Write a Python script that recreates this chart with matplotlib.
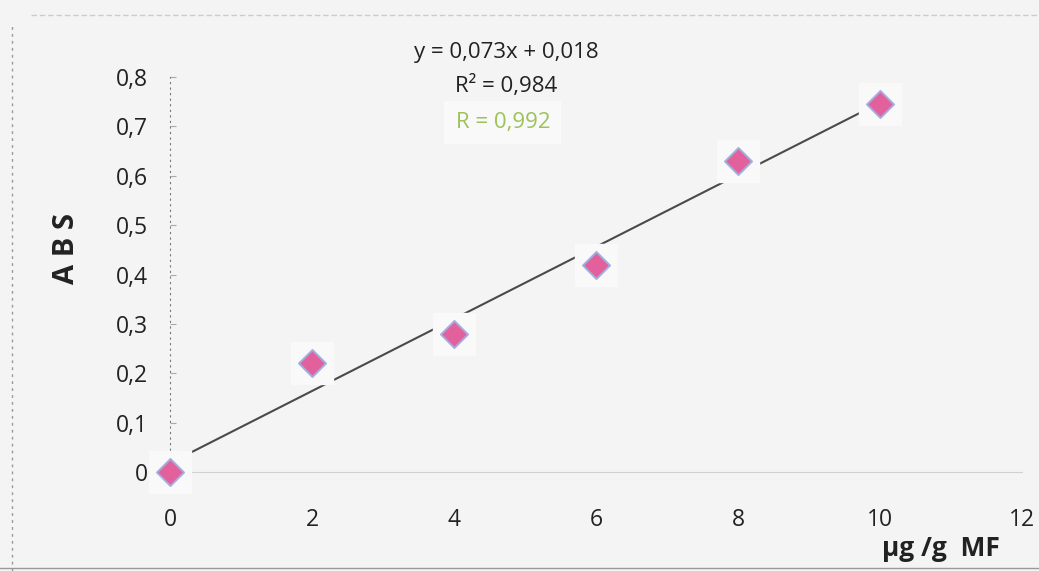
import numpy as np
import matplotlib.pyplot as plt
from matplotlib.lines import Line2D

plt.rcParams['font.family'] = ['Open Sans', 'DejaVu Sans']

# Calibration data
conc = [0, 2, 4, 6, 8, 10]          # µg/g MF
absorb = [0.0, 0.22, 0.28, 0.42, 0.63, 0.745]

x_ticks = [0, 2, 4, 6, 8, 10, 12]
y_ticks = [0, 0.1, 0.2, 0.3, 0.4, 0.5, 0.6, 0.7, 0.8]

# Linear fit shown on the chart
slope, intercept = 0.073, 0.018
r2, r = 0.984, 0.992

def comma(v, nd):
    return f'{v:.{nd}f}'.replace('.', ',')

bg = '#f4f4f4'
fig = plt.figure(figsize=(10.39, 5.71), dpi=100, facecolor=bg)
ax = fig.add_axes([0.1636, 0.1734, 0.82, 0.6917], facecolor=bg)

# trendline
xs = np.array([conc[0], conc[-1]])
ax.plot(xs, slope * xs + intercept, color='#4a4a4a', lw=1.5, zorder=2)

# pale boxes behind the markers, then the diamonds
ax.scatter(conc, absorb, marker='s', s=950, color='#f9f9f9', zorder=3,
           clip_on=False)
ax.scatter(conc, absorb, marker='D', s=190, facecolor='#e2619c',
           edgecolor='#a3aee0', linewidth=1.4, zorder=4, clip_on=False)

ax.set_xlim(0, 12)
ax.set_ylim(0, 0.8)
ax.set_xticks(x_ticks)
ax.set_xticklabels([str(t) for t in x_ticks])
ax.set_yticks(y_ticks)
ax.set_yticklabels([comma(t, 1) if t else '0' for t in y_ticks])
ax.tick_params(axis='x', length=0, pad=26, labelsize=16.5, colors='#222222')
ax.tick_params(axis='y', length=4, width=0.8, direction='in', pad=16,
               labelsize=16.5, colors='#222222')
ax.tick_params(axis='y', color='#aaaaaa')

for side in ['top', 'right']:
    ax.spines[side].set_visible(False)
ax.spines['left'].set_linestyle((0, (1, 4)))
ax.spines['left'].set_color('#777777')
ax.spines['bottom'].set_color('#d0d0d0')
ax.spines['bottom'].set_linewidth(0.8)

# equation box
fig.text(0.487, 0.908, f'y = {comma(slope, 3)}x + {comma(intercept, 3)}',
         ha='center', va='center', fontsize=16, color='#222222')
fig.text(0.487, 0.850, f'R² = {comma(r2, 3)}',
         ha='center', va='center', fontsize=16, color='#222222')
fig.text(0.484, 0.786, f'R = {comma(r, 3)}', ha='center', va='center',
         fontsize=16, color='#9cc25a',
         bbox=dict(boxstyle='square,pad=0.5', fc='#f9f9f9', ec='none'))

fig.text(0.064, 0.565, 'A B S', rotation=90, ha='center', va='center',
         fontsize=21, fontweight='bold', color='#222222')
fig.text(0.906, 0.040, 'µg /g  MF', ha='center', va='center',
         fontsize=19, fontweight='bold', color='#222222')

# outer chart frame
fig.add_artist(Line2D([0.012, 0.012], [0.0, 0.955], color='#999999', lw=1,
                      linestyle=(0, (2, 3))))
fig.add_artist(Line2D([0.03, 1.0], [0.973, 0.973], color='#cccccc', lw=1,
                      linestyle=(0, (4, 2))))
fig.add_artist(Line2D([0.0, 1.0], [0.006, 0.006], color='#999999', lw=1))

fig.savefig('out.png', dpi=100, facecolor=bg)
